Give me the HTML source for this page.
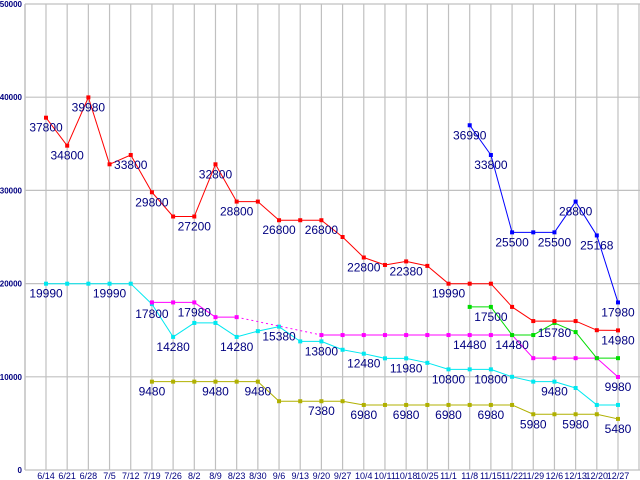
<!DOCTYPE html>
<html><head><meta charset="utf-8"><style>
body{margin:0;background:#fff;}
svg{display:block;font-family:"Liberation Sans",sans-serif;}
</style></head><body>
<svg id="chart" width="640" height="480" viewBox="0 0 640 480"></svg>
<script>
const categories=["6/14","6/21","6/28","7/5","7/12","7/19","7/26","8/2","8/9","8/23","8/30","9/6","9/13","9/20","9/27","10/4","10/11","10/18","10/25","11/1","11/8","11/15","11/22","11/29","12/6","12/13","12/20","12/27"];
const yTicks=[0,10000,20000,30000,40000,50000];
const redValues=[37800,34800,39980,32800,33800,29800,27200,27200,32800,28800,28800,26800,26800,26800,25000,22800,22000,22380,21900,19990,19990,19990,17500,15980,15980,15980,15000,14980];
const redLabels=[0,1,2,4,5,7,8,9,11,13,15,17,19,27];
const blueValues=[null,null,null,null,null,null,null,null,null,null,null,null,null,null,null,null,null,null,null,null,36990,33800,25500,25500,25500,28800,25168,17980];
const blueLabels=[20,21,22,24,25,26,27];
const greenValues=[null,null,null,null,null,null,null,null,null,null,null,null,null,null,null,null,null,null,null,null,17500,17500,14480,14480,15780,14800,12000,12000];
const greenLabels=[21,24];
const magentaValues=[null,null,null,null,null,17980,17980,17980,16400,16400,null,null,null,14480,14480,14480,14480,14480,14480,14480,14480,14480,14480,12000,12000,12000,12000,9980];
const magentaLabels=[7,20,22,27];
const cyanValues=[19990,19990,19990,19990,19990,17800,14280,15780,15780,14280,14900,15380,13800,13800,12900,12480,11980,11980,11500,10800,10800,10800,10000,9480,9480,8800,6980,6980];
const cyanLabels=[0,3,5,6,9,11,13,15,17,19,21,24];
const oliveValues=[null,null,null,null,null,9480,9480,9480,9480,9480,9480,7380,7380,7380,7380,6980,6980,6980,6980,6980,6980,6980,6980,5980,5980,5980,5980,5480];
const oliveLabels=[5,8,10,13,15,17,19,21,23,25,27];

const NS="http://www.w3.org/2000/svg";
const svg=document.getElementById('chart');
function xPos(i){return 46+i*21.185;}
function yPos(v){return 470-v*(466/50000);}
function mk(tag,attrs,parent){const e=document.createElementNS(NS,tag);for(const k in attrs)e.setAttribute(k,attrs[k]);(parent||svg).appendChild(e);return e;}

const grid=mk('g',{});


categories.forEach((c,i)=>{const l=mk('line',{x1:xPos(i),x2:xPos(i),y1:4,y2:470,stroke:'#c0c0c0','stroke-width':1.2},grid);

});
mk('line',{x1:639,x2:639,y1:4,y2:470,stroke:'#c0c0c0','stroke-width':1.2},grid);
yTicks.forEach(v=>{const l=mk('line',{x1:25,x2:640,y1:yPos(v),y2:yPos(v),stroke:'#c0c0c0','stroke-width':1.2},grid);


const t=mk('text',{x:22,y:yPos(v)+3,'font-size':8,'font-weight':'bold',fill:'#000080','text-anchor':'end'});
t.textContent=String(v);

});
mk('line',{x1:25,x2:25,y1:4,y2:470,stroke:'#c0c0c0','stroke-width':1.5},grid);
categories.forEach((c,i)=>{const t=mk('text',{x:xPos(i),y:479,'font-size':9,fill:'#000080','text-anchor':'middle'});
t.textContent=c;

});

function series(name,vals,labels,color){
 const g=mk('g',{});
 
 
 for(let i=1;i<vals.length;i++){
  if(vals[i]==null)continue;
  let j=i-1;while(j>=0&&vals[j]==null)j--;
  if(j<0)continue;
  const a={x1:xPos(j),y1:yPos(vals[j]),x2:xPos(i),y2:yPos(vals[i]),stroke:color,'stroke-width':1};
  if(j<i-1)a['stroke-dasharray']='2,3';
  const l=mk('line',a,g);
  
  
 }
 vals.forEach((v,i)=>{if(v==null)return;
  const r=mk('rect',{x:xPos(i)-2,y:yPos(v)-2,width:4,height:4,fill:color},g);
  
  });
 labels.forEach(i=>{const t=mk('text',{x:xPos(i),y:yPos(vals[i])+14,'font-size':12,fill:'#000080','text-anchor':'middle'},g);
  t.textContent=String(vals[i]);
  
  });
}
series('olive',oliveValues,oliveLabels,'#b0b000');
series('cyan',cyanValues,cyanLabels,'#00e8f0');
series('magenta',magentaValues,magentaLabels,'#ff00ff');
series('green',greenValues,greenLabels,'#00dd00');
series('red',redValues,redLabels,'#ff0000');
series('blue',blueValues,blueLabels,'#0000ff');
</script>
</body></html>
